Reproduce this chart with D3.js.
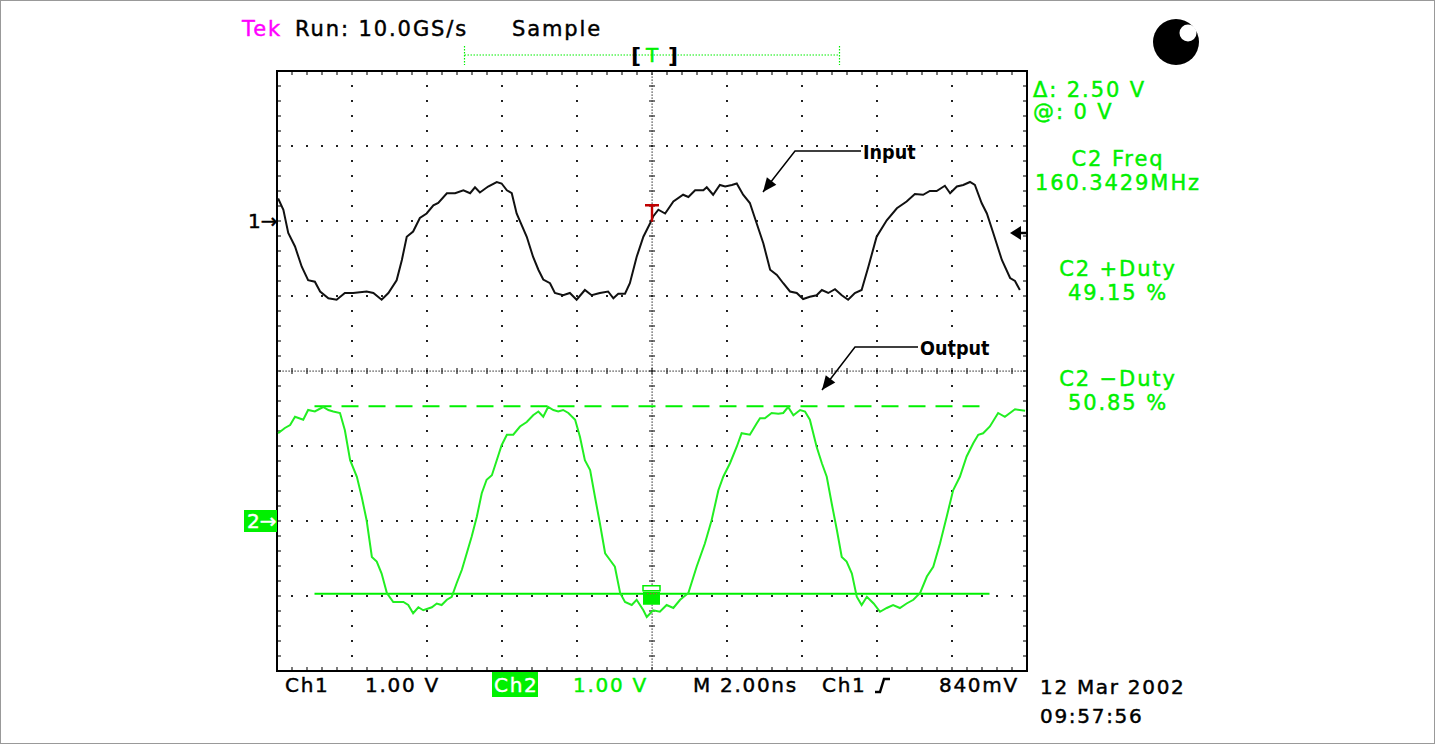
<!DOCTYPE html>
<html>
<head>
<meta charset="utf-8">
<script src="https://cdn.jsdelivr.net/npm/d3@7"></script>
<style>
  body { margin: 0; background: #fff; }
  svg text { font-family: "DejaVu Sans", sans-serif; }
</style>
</head>
<body>
<div id="scope"></div>
<script>
// waveform samples: time in ns, volts
var ch1Time = [-9.97,-9.83,-9.70,-9.52,-9.34,-9.17,-8.99,-8.85,-8.63,-8.41,-8.19,-7.97,-7.61,-7.43,-7.21,-7.03,-6.81,-6.67,-6.54,-6.37,-6.19,-6.01,-5.83,-5.70,-5.47,-5.25,-5.03,-4.85,-4.72,-4.59,-4.37,-4.14,-4.01,-3.87,-3.74,-3.61,-3.34,-3.17,-3.03,-2.90,-2.72,-2.59,-2.37,-2.19,-2.01,-1.79,-1.61,-1.39,-1.17,-1.03,-0.90,-0.72,-0.59,-0.41,-0.23,-0.05,0.03,0.17,0.35,0.57,0.83,0.97,1.15,1.37,1.46,1.63,1.81,1.95,2.13,2.26,2.43,2.61,2.79,2.97,3.15,3.33,3.50,3.68,3.86,4.03,4.21,4.39,4.53,4.70,4.88,5.06,5.23,5.41,5.59,5.77,5.99,6.26,6.53,6.79,7.01,7.23,7.41,7.59,7.81,7.95,8.13,8.30,8.48,8.61,8.79,8.93,9.10,9.33,9.55,9.68,9.81];
var ch1Volts = [0.30,0.15,-0.16,-0.34,-0.61,-0.79,-0.81,-0.94,-1.03,-1.05,-0.96,-0.96,-0.94,-0.96,-1.05,-0.96,-0.79,-0.52,-0.21,-0.14,0.04,0.10,0.21,0.24,0.37,0.37,0.41,0.37,0.45,0.38,0.46,0.52,0.50,0.41,0.37,0.10,-0.21,-0.48,-0.65,-0.78,-0.83,-0.96,-0.99,-0.96,-1.05,-0.92,-0.99,-0.96,-0.94,-1.03,-0.97,-0.97,-0.83,-0.48,-0.21,-0.03,0.06,0.15,0.10,0.26,0.35,0.32,0.41,0.41,0.45,0.35,0.48,0.46,0.48,0.50,0.35,0.24,-0.03,-0.30,-0.65,-0.72,-0.83,-0.94,-0.96,-1.04,-1.01,-0.99,-0.92,-0.96,-0.91,-0.99,-1.05,-0.96,-0.92,-0.61,-0.21,0.01,0.17,0.26,0.36,0.35,0.40,0.40,0.47,0.37,0.46,0.48,0.52,0.48,0.24,0.10,-0.16,-0.52,-0.76,-0.80,-0.92];

var ch2Time = [-9.97,-9.79,-9.65,-9.52,-9.30,-9.17,-8.99,-8.77,-8.63,-8.50,-8.32,-8.19,-8.05,-7.87,-7.74,-7.61,-7.47,-7.34,-7.21,-7.07,-6.90,-6.63,-6.50,-6.37,-6.23,-6.10,-5.87,-5.74,-5.61,-5.47,-5.34,-5.21,-5.07,-4.94,-4.81,-4.67,-4.54,-4.41,-4.27,-4.14,-4.01,-3.87,-3.70,-3.52,-3.34,-3.17,-3.03,-2.90,-2.77,-2.63,-2.50,-2.37,-2.23,-2.05,-1.92,-1.79,-1.65,-1.52,-1.39,-1.25,-1.12,-0.99,-0.85,-0.72,-0.54,-0.41,-0.23,-0.14,0.03,0.21,0.39,0.57,0.75,0.97,1.19,1.41,1.59,1.77,1.90,2.08,2.26,2.39,2.61,2.79,2.88,3.01,3.19,3.37,3.50,3.63,3.77,3.95,4.08,4.21,4.39,4.53,4.66,4.79,4.93,5.06,5.19,5.33,5.46,5.59,5.73,5.91,6.08,6.26,6.43,6.61,6.79,6.97,7.15,7.33,7.50,7.68,7.86,8.03,8.21,8.39,8.57,8.70,8.83,9.01,9.23,9.41,9.68,9.95];
var ch2Volts = [1.17,1.24,1.28,1.39,1.35,1.48,1.46,1.52,1.48,1.46,1.44,1.21,0.81,0.59,0.32,0.01,-0.48,-0.54,-0.70,-0.96,-1.08,-1.08,-1.12,-1.23,-1.15,-1.19,-1.15,-1.10,-1.12,-1.05,-1.01,-0.83,-0.65,-0.43,-0.21,0.06,0.37,0.55,0.61,0.81,1.01,1.15,1.15,1.26,1.32,1.41,1.46,1.39,1.52,1.48,1.46,1.48,1.44,1.35,1.12,0.81,0.68,0.32,-0.03,-0.43,-0.52,-0.61,-0.96,-1.08,-1.12,-1.05,-1.19,-1.28,-1.19,-1.21,-1.12,-1.16,-1.05,-0.96,-0.61,-0.30,0.01,0.41,0.59,0.77,0.99,1.17,1.15,1.30,1.37,1.37,1.44,1.43,1.44,1.52,1.41,1.48,1.46,1.35,0.99,0.77,0.59,0.24,-0.12,-0.48,-0.54,-0.70,-1.01,-1.12,-1.01,-1.10,-1.21,-1.16,-1.12,-1.16,-1.10,-1.05,-0.96,-0.74,-0.61,-0.30,0.06,0.41,0.59,0.86,1.04,1.15,1.17,1.26,1.44,1.39,1.49,1.47];

// cursors on ch2 (volts) and their time span (ns)
var cursorVolts = [1.53, -0.97];
var cursorSpan = [-9, 9];
var trigLevelCh1 = -0.16;
var recordWindow = [-5, 5];

var headerText = ["Run: 10.0GS/s", "Sample"];
var sideReadouts = [["C2 Freq", "160.3429MHz"], ["C2 +Duty", "49.15 %"], ["C2 \u2212Duty", "50.85 %"]];
var cursorReadouts = ["\u0394: 2.50 V", "@: 0 V"];
var footer = { ch1: "1.00 V", ch2: "1.00 V", time: "M 2.00ns", trigSrc: "Ch1", trigLvl: "840mV" };
var stamp = ["12 Mar 2002", "09:57:56"];

var W = 1435, H = 744;
var GREEN = "#00f000";

var svg = d3.select("#scope").append("svg")
  .attr("width", W).attr("height", H);

svg.append("rect").attr("x", 0.5).attr("y", 0.5)
  .attr("width", W - 1).attr("height", H - 1)
  .attr("fill", "#fff").attr("stroke", "#999");

// scales: 10 divisions of 2 ns across, 8 divisions of 1 V down
var x = d3.scaleLinear().domain([-10, 10]).range([277, 1027]);
var y1 = d3.scaleLinear().domain([-6, 2]).range([671, 71]);
var y2 = d3.scaleLinear().domain([-2, 6]).range([671, 71]);

var g = svg.append("g");

// graticule dots
var xMajor = d3.range(-8, 9, 2);
var yMajor = d3.range(-5, 2, 1);
var xMinor = d3.range(-10, 10.01, 0.4);
var yMinor = d3.range(-6, 2.01, 0.2);

xMajor.forEach(function (t) {
  if (t === 0) return;
  g.selectAll(null).data(yMinor).enter().append("rect")
    .attr("x", x(t) - 1).attr("y", function (v) { return y1(v) - 1; })
    .attr("width", 2).attr("height", 2).attr("fill", "#222");
});
yMajor.forEach(function (v) {
  if (v === -2) return;
  g.selectAll(null).data(xMinor).enter().append("rect")
    .attr("x", function (t) { return x(t) - 1; }).attr("y", y1(v) - 1)
    .attr("width", 2).attr("height", 2).attr("fill", "#222");
});

// center cross: fine dotted line with ticks
var fineX = d3.range(-10, 10.01, 0.08);
var fineY = d3.range(-6, 2.01, 0.04);
g.selectAll(null).data(fineX).enter().append("rect")
  .attr("x", function (t) { return x(t) - 0.5; }).attr("y", y1(-2) - 0.5)
  .attr("width", 1.2).attr("height", 1.2).attr("fill", "#222");
g.selectAll(null).data(fineY).enter().append("rect")
  .attr("x", x(0) - 0.5).attr("y", function (v) { return y1(v) - 0.5; })
  .attr("width", 1.2).attr("height", 1.2).attr("fill", "#222");
g.selectAll(null).data(xMinor).enter().append("line")
  .attr("x1", function (t) { return x(t); }).attr("x2", function (t) { return x(t); })
  .attr("y1", y1(-2) - 3).attr("y2", y1(-2) + 3)
  .attr("stroke", "#222").attr("stroke-width", 1.2);
g.selectAll(null).data(yMinor).enter().append("line")
  .attr("x1", x(0) - 3).attr("x2", x(0) + 3)
  .attr("y1", function (v) { return y1(v); }).attr("y2", function (v) { return y1(v); })
  .attr("stroke", "#222").attr("stroke-width", 1.2);

// border ticks
g.selectAll(null).data(xMinor).enter().append("line")
  .attr("x1", function (t) { return x(t); }).attr("x2", function (t) { return x(t); })
  .attr("y1", 71).attr("y2", 75).attr("stroke", "#222").attr("stroke-width", 1.2);
g.selectAll(null).data(xMinor).enter().append("line")
  .attr("x1", function (t) { return x(t); }).attr("x2", function (t) { return x(t); })
  .attr("y1", 667).attr("y2", 671).attr("stroke", "#222").attr("stroke-width", 1.2);
g.selectAll(null).data(yMinor).enter().append("line")
  .attr("x1", 277).attr("x2", 281)
  .attr("y1", function (v) { return y1(v); }).attr("y2", function (v) { return y1(v); })
  .attr("stroke", "#222").attr("stroke-width", 1.2);
g.selectAll(null).data(yMinor).enter().append("line")
  .attr("x1", 1023).attr("x2", 1027)
  .attr("y1", function (v) { return y1(v); }).attr("y2", function (v) { return y1(v); })
  .attr("stroke", "#222").attr("stroke-width", 1.2);

g.append("rect").attr("x", 277).attr("y", 71)
  .attr("width", 750).attr("height", 600)
  .attr("fill", "none").attr("stroke", "#000").attr("stroke-width", 2);

// cursors
svg.append("line")
  .attr("x1", x(cursorSpan[0])).attr("x2", x(cursorSpan[1]))
  .attr("y1", y2(cursorVolts[0])).attr("y2", y2(cursorVolts[0]))
  .attr("stroke", GREEN).attr("stroke-width", 2).attr("stroke-dasharray", "17,10");
svg.append("line")
  .attr("x1", x(cursorSpan[0])).attr("x2", x(cursorSpan[1]))
  .attr("y1", y2(cursorVolts[1])).attr("y2", y2(cursorVolts[1]))
  .attr("stroke", GREEN).attr("stroke-width", 2);

// traces
var ch1 = ch1Time.map(function (t, i) { return [t, ch1Volts[i]]; });
var ch2 = ch2Time.map(function (t, i) { return [t, ch2Volts[i]]; });

svg.append("path")
  .attr("fill", "none").attr("stroke", "#111").attr("stroke-width", 2)
  .attr("d", d3.line().x(function (d) { return x(d[0]); }).y(function (d) { return y1(d[1]); })(ch1));
svg.append("path")
  .attr("fill", "none").attr("stroke", "#22ee22").attr("stroke-width", 2)
  .attr("d", d3.line().x(function (d) { return x(d[0]); }).y(function (d) { return y2(d[1]); })(ch2));

// trigger marker on ch1 (red T)
svg.append("path")
  .attr("d", "M" + (x(0) - 7) + "," + (y1(0.21)) + "H" + (x(0) + 7) + "M" + x(0) + "," + y1(0.21) + "V" + y1(-0.01))
  .attr("stroke", "#c00000").attr("stroke-width", 2.4).attr("fill", "none");

// ch2 cursor handle near trigger
var cy = y2(cursorVolts[1]);
svg.append("rect").attr("x", x(0) - 9).attr("y", cy - 8)
  .attr("width", 17).attr("height", 5).attr("fill", "#fff").attr("stroke", GREEN).attr("stroke-width", 1.5);
svg.append("rect").attr("x", x(0) - 9).attr("y", cy - 2)
  .attr("width", 17).attr("height", 13).attr("fill", GREEN);
svg.append("line").attr("x1", x(0) - 5).attr("x2", x(0) + 5).attr("y1", cy).attr("y2", cy)
  .attr("stroke", "#d04040").attr("stroke-width", 1).attr("stroke-dasharray", "1.5,1.5");

// ground markers
svg.append("text").attr("x", 248).attr("y", y1(0) + 7).attr("font-size", 20)
  .attr("stroke", "#000").attr("stroke-width", 0.5).text("1\u2192");
svg.append("rect").attr("x", 244).attr("y", y2(0) - 11).attr("width", 33).attr("height", 22).attr("fill", GREEN);
svg.append("text").attr("x", 247).attr("y", y2(0) + 7).attr("font-size", 20).attr("fill", "#fff")
  .attr("stroke", "#fff").attr("stroke-width", 0.5).text("2\u2192");

// trigger level arrow on right
var ty = y1(trigLevelCh1);
svg.append("path")
  .attr("d", "M1010," + ty + "L1021," + (ty - 7) + "L1021," + (ty + 7) + "Z")
  .attr("fill", "#000");
svg.append("line").attr("x1", 1020).attr("x2", 1027).attr("y1", ty).attr("y2", ty)
  .attr("stroke", "#000").attr("stroke-width", 2.5);

// record window indicator
var ry = 55;
svg.append("line").attr("x1", x(recordWindow[0])).attr("x2", x(recordWindow[1]))
  .attr("y1", ry).attr("y2", ry).attr("stroke", GREEN).attr("stroke-width", 1.2).attr("stroke-dasharray", "1.5,1.5");
[recordWindow[0], recordWindow[1]].forEach(function (t) {
  svg.append("line").attr("x1", x(t)).attr("x2", x(t)).attr("y1", 46).attr("y2", 65)
    .attr("stroke", GREEN).attr("stroke-width", 1.2).attr("stroke-dasharray", "1.5,1.5");
});
svg.append("text").attr("x", 631).attr("y", 63).attr("font-size", 22).attr("font-weight", "bold").text("[");
svg.append("text").attr("x", 668).attr("y", 63).attr("font-size", 22).attr("font-weight", "bold").text("]");
svg.append("text").attr("x", x(0)).attr("y", 62).attr("text-anchor", "middle")
  .attr("font-size", 20).attr("fill", GREEN).attr("stroke", GREEN).attr("stroke-width", 0.5).text("T");

// header
var hdr = svg.append("g").attr("font-size", 21).attr("letter-spacing", 1.9)
  .attr("stroke-width", 0.45);
hdr.append("text").attr("x", 242).attr("y", 36).attr("fill", "#ff00ff").attr("stroke", "#ff00ff").text("Tek");
hdr.append("text").attr("x", 295).attr("y", 36).attr("stroke", "#000").text(headerText[0]);
hdr.append("text").attr("x", 512).attr("y", 36).attr("stroke", "#000").text(headerText[1]);

// probe ball
svg.append("circle").attr("cx", 1176).attr("cy", 42).attr("r", 23).attr("fill", "#000");
svg.append("circle").attr("cx", 1188).attr("cy", 33).attr("r", 8.5).attr("fill", "#fff");

// side readouts
var side = svg.append("g").attr("font-size", 21).attr("fill", GREEN).attr("letter-spacing", 1.9)
  .attr("stroke", GREEN).attr("stroke-width", 0.45);
side.append("text").attr("x", 1033).attr("y", 97).text(cursorReadouts[0]);
side.append("text").attr("x", 1033).attr("y", 119).text(cursorReadouts[1]);
var sideY = [166, 276, 386];
sideReadouts.forEach(function (r, i) {
  side.append("text").attr("x", 1118).attr("y", sideY[i]).attr("text-anchor", "middle").text(r[0]);
  side.append("text").attr("x", 1118).attr("y", sideY[i] + 24).attr("text-anchor", "middle").text(r[1]);
});

// footer
var ft = svg.append("g").attr("font-size", 20).attr("letter-spacing", 1.7).attr("stroke-width", 0.45);
ft.append("text").attr("x", 285).attr("y", 692).attr("stroke", "#000").text("Ch1");
ft.append("text").attr("x", 365).attr("y", 692).attr("stroke", "#000").text(footer.ch1);
ft.append("rect").attr("x", 492).attr("y", 672).attr("width", 46).attr("height", 25).attr("fill", GREEN);
ft.append("text").attr("x", 494).attr("y", 692).attr("fill", "#fff").attr("stroke", "#fff").text("Ch2");
ft.append("text").attr("x", 573).attr("y", 692).attr("fill", GREEN).attr("stroke", GREEN).text(footer.ch2);
ft.append("text").attr("x", 693).attr("y", 692).attr("stroke", "#000").text(footer.time);
ft.append("text").attr("x", 822).attr("y", 692).attr("stroke", "#000").text(footer.trigSrc);
ft.append("path").attr("d", "M875,692H880L884,679H890").attr("fill", "none")
  .attr("stroke", "#000").attr("stroke-width", 2.5);
ft.append("text").attr("x", 939).attr("y", 692).attr("stroke", "#000").text(footer.trigLvl);
ft.append("text").attr("x", 1040).attr("y", 694).attr("stroke", "#000").text(stamp[0]);
ft.append("text").attr("x", 1040).attr("y", 723).attr("stroke", "#000").text(stamp[1]);

// annotations
function callout(label, tx, ty, kx, tipX, tipY) {
  var a = svg.append("g");
  a.append("path").attr("d", "M" + (tx - 2) + "," + ty + "H" + kx + "L" + tipX + "," + tipY)
    .attr("fill", "none").attr("stroke", "#000").attr("stroke-width", 1.5);
  var ang = Math.atan2(tipY - ty, tipX - kx);
  var L = 14, w = 6;
  var bx = tipX - L * Math.cos(ang), by = tipY - L * Math.sin(ang);
  a.append("path")
    .attr("d", "M" + tipX + "," + tipY +
      "L" + (bx + w * Math.sin(ang)) + "," + (by - w * Math.cos(ang)) +
      "L" + (bx - w * Math.sin(ang)) + "," + (by + w * Math.cos(ang)) + "Z")
    .attr("fill", "#000");
  a.append("text").attr("transform", "translate(" + tx + "," + (ty + 8) + ") scale(0.88,1)")
    .attr("font-family", "Liberation Sans, Arial, sans-serif")
    .attr("font-weight", "bold").attr("font-size", 20).text(label);
}
callout("Input", 863, 151, 795, 763, 192);
callout("Output", 920, 347, 855, 822, 390);
</script>
</body>
</html>
